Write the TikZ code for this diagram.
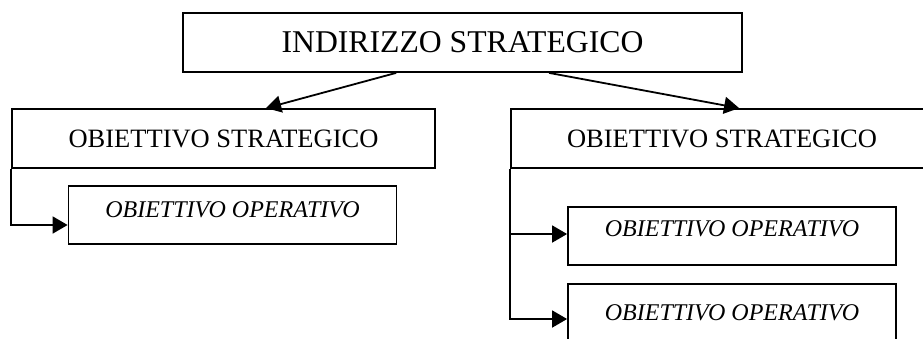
\documentclass[tikz,border=0pt]{standalone}
\usepackage{fontspec}
\setmainfont{Liberation Serif}
\usetikzlibrary{arrows.meta,calc}
\begin{document}
\begin{tikzpicture}[x=1pt,y=-1pt,
  box/.style={draw, line width=1.8pt, rectangle, inner sep=0pt},
  topbox/.style={box, font=\fontsize{31.7}{36}\selectfont},
  strbox/.style={box, minimum height=59pt, font=\fontsize{26.5}{30}\selectfont},
  opbox/.style={box, minimum width=328pt, minimum height=58pt, font=\fontsize{24}{28}\selectfont\itshape},
  conn/.style={line width=1.8pt, -{Triangle[length=15pt,width=17pt]}}]
\useasboundingbox (0,0) rectangle (923,338);
\clip (0,0) rectangle (923,338);
\node[topbox, minimum width=559pt, minimum height=59pt] (top) at (462.5,42.5) {INDIRIZZO STRATEGICO};
\node[strbox, minimum width=423pt] (ls) at (223.5,138.5) {OBIETTIVO STRATEGICO};
\node[strbox, minimum width=422pt] (rs) at (722,138.5) {OBIETTIVO STRATEGICO};
\node[opbox, text depth=10pt] (lo) at (232.5,215) {OBIETTIVO OPERATIVO};
\node[opbox, text depth=15pt] (ro1) at (732,236) {OBIETTIVO OPERATIVO};
\node[opbox] (ro2) at (732,313) {OBIETTIVO OPERATIVO};
\draw[conn] ([xshift=214pt]top.south west) -- ([xshift=255pt]ls.north west);
\draw[conn] ([xshift=367pt]top.south west) -- ([xshift=229pt]rs.north west);
\draw[conn] (ls.south west) |- ([yshift=-10pt]lo.west);
\draw[conn] (rs.south west) |- ([yshift=2pt]ro1.west);
\draw[conn] (rs.south west) |- ([yshift=-6pt]ro2.west);
\end{tikzpicture}
\end{document}
